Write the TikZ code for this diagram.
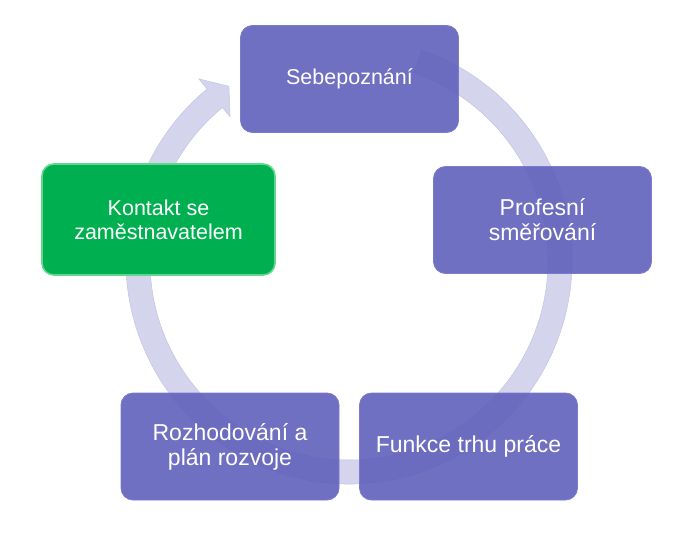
\documentclass[tikz,border=0pt]{standalone}
\usepackage{fontspec}
\setmainfont{Liberation Sans}
\usetikzlibrary{calc}
\definecolor{boxblue}{RGB}{96,96,188}
\definecolor{boxedge}{RGB}{122,122,206}
\definecolor{keygreen}{RGB}{0,176,80}
\definecolor{greenedge}{RGB}{96,214,144}
\definecolor{ringfill}{RGB}{212,213,237}
\definecolor{ringedge}{RGB}{194,195,227}

\begin{document}
\begin{tikzpicture}[
    x=1pt, y=-1pt,
    stage/.style={
      rectangle, rounded corners=12pt, align=center,
      text=white, text opacity=1,
      minimum width=218pt, minimum height=107pt,
      fill=boxblue, fill opacity=0.9,
      draw=boxedge, line width=0.8pt,
      font=\fontsize{23}{25}\selectfont
    },
    focus/.style={
      stage, fill=keygreen, fill opacity=1,
      draw=greenedge, line width=1.6pt,
      minimum width=233pt, minimum height=111pt
    },
    cyclearrow/.style={fill=ringfill, draw=ringedge, line width=0.5pt}
  ]
    \useasboundingbox (0,0) rectangle (699,546);
    \coordinate (c) at (349,261);
    \filldraw[cyclearrow] ($(c)+(71:223pt)$)
      arc[start angle=71, end angle=-230.5, radius=223pt]
      -- ($(c)+(-230.5:236pt)$) -- ($(c)+(-235.5:212pt)$)
      -- ($(c)+(-230.5:187pt)$) -- ($(c)+(-230.5:199pt)$)
      arc[start angle=-230.5, end angle=71, radius=199pt] -- cycle;
    \node[stage, font=\fontsize{21.5}{24}\selectfont] (self) at (349.5,79) {Sebepozn\'an\'i};
    \node[stage] (orient) at (542.5,220) {Profesn\'i\\sm\v{e}\v{r}ov\'an\'i};
    \node[stage] (market) at (468.5,446.5) {Funkce trhu pr\'ace};
    \node[stage] (plan) at (230,446.5) {Rozhodov\'an\'i a\\pl\'an rozvoje};
    \node[focus, font=\fontsize{21.5}{24}\selectfont] (employer) at (158.5,219.5) {Kontakt se\\zam\v{e}stnavatelem};
  \end{tikzpicture}
\end{document}
